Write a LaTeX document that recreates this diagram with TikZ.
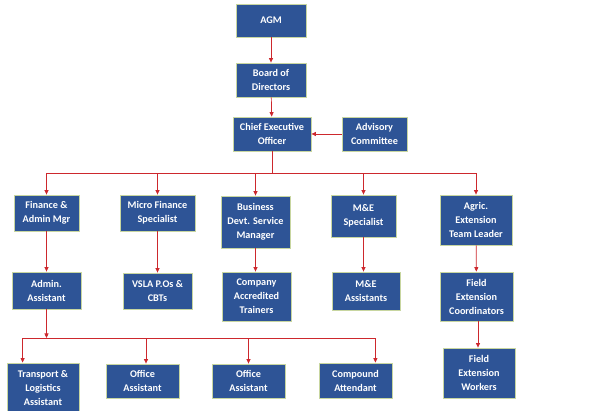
\documentclass[tikz,border=0pt]{standalone}
\usepackage{fontspec}
\setmainfont{Carlito}
\usetikzlibrary{arrows.meta}
\definecolor{boxblue}{RGB}{46,84,150}
\definecolor{boxedge}{RGB}{200,214,160}
\definecolor{linkred}{RGB}{205,40,45}
\tikzset{
  orgbox/.style={draw=boxedge, line width=0.8pt, fill=boxblue, text=white,
    font=\bfseries\fontsize{10.2}{14}\selectfont, align=center, inner sep=0pt},
  link/.style={draw=linkred, line width=0.7pt},
  arr/.style={link, -{Triangle[width=4pt,length=4.5pt]}}
}
\begin{document}
\begin{tikzpicture}[x=1pt,y=-1pt]
\useasboundingbox (0,0) rectangle (606,411);
\clip (0,0) rectangle (606,411);
\fill[white] (0,0) rectangle (606,411);
% level 0-2
\node[orgbox, minimum width=70pt, minimum height=33pt] (agm) at (271,20.5) {AGM};
\node[orgbox, minimum width=70pt, minimum height=34pt] (board) at (271,80) {Board of\\Directors};
\node[orgbox, minimum width=78pt, minimum height=34pt] (ceo) at (272,134) {Chief Executive\\Officer};
\node[orgbox, minimum width=65pt, minimum height=34pt] (adv) at (374.5,134) {Advisory\\Committee};
% level 3
\node[orgbox, minimum width=65pt, minimum height=36pt] (fin) at (46.5,213) {Finance \&\\Admin Mgr};
\node[orgbox, minimum width=75pt, minimum height=36pt] (micro) at (157.5,213) {Micro Finance\\Specialist};
\node[orgbox, minimum width=69pt, minimum height=52pt] (bdm) at (255.5,222) {Business\\Devt. Service\\Manager};
\node[orgbox, minimum width=65pt, minimum height=42pt] (me) at (363.5,216) {M\&E\\Specialist};
\node[orgbox, minimum width=72pt, minimum height=50pt] (agric) at (476,220) {Agric.\\Extension\\Team Leader};
% level 4
\node[orgbox, minimum width=69pt, minimum height=37pt] (admin) at (46.5,290.5) {Admin.\\Assistant};
\node[orgbox, minimum width=69pt, minimum height=36pt] (vsla) at (157.5,291) {VSLA P.Os \&\\CBTs};
\node[orgbox, minimum width=69pt, minimum height=49pt] (cat) at (256.5,296.5) {Company\\Accredited\\Trainers};
\node[orgbox, minimum width=68pt, minimum height=38pt] (measst) at (366,291) {M\&E\\Assistants};
\node[orgbox, minimum width=73pt, minimum height=49pt] (fec) at (476.5,296.5) {Field\\Extension\\Coordinators};
% level 5
\node[orgbox, minimum width=72pt, minimum height=50pt] (trans) at (43,388) {Transport \&\\Logistics\\Assistant};
\node[orgbox, minimum width=73pt, minimum height=34pt] (off1) at (142.5,381) {Office\\Assistant};
\node[orgbox, minimum width=73pt, minimum height=34pt] (off2) at (248.5,381) {Office\\Assistant};
\node[orgbox, minimum width=73pt, minimum height=35pt] (comp) at (355.5,380.5) {Compound\\Attendant};
\node[orgbox, minimum width=72pt, minimum height=50pt] (few) at (479,373) {Field\\Extension\\Workers};
% connectors top
\draw[arr] (agm) -- (board);
\draw[arr] (board) -- (ceo);
\draw[arr] (adv) -- (ceo);
\coordinate (bus1) at (272,173);
\draw[link] (ceo) -- (bus1);
\foreach \t in {fin,micro,bdm,me,agric} \draw[arr] (bus1) -| (\t);
% level 3 -> 4
\draw[arr] (fin) -- (admin);
\draw[arr] (micro) -- (vsla);
\draw[arr] (bdm) -- (bdm.south |- cat.north);
\draw[arr] (me) -- (me.south |- measst.north);
\draw[arr] (agric) -- (fec);
\draw[arr] ([xshift=1.5pt]fec.south) -- ([xshift=1.5pt]fec.south |- few.north);
% admin bus
\coordinate (bus2) at (46.5,338);
\draw[arr] (admin) -- (bus2);
\draw[arr] (bus2) -| ([xshift=16pt]trans.north west);
\draw[arr] (bus2) -| ([xshift=3.5pt]off1.north);
\draw[arr] (bus2) -| (off2);
\draw[arr] (bus2) -| ([xshift=-17pt]comp.north east);
\end{tikzpicture}
\end{document}
